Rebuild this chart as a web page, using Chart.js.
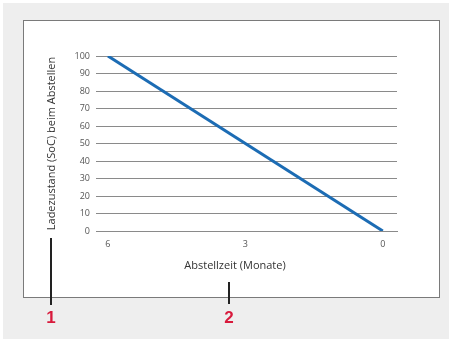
<!DOCTYPE html>
<html>
<head>
<meta charset="utf-8">
<script src="https://cdn.jsdelivr.net/npm/chart.js@4/dist/chart.umd.min.js"></script>
<style>
  body { margin: 0; background: #fff; }
  #wrap { position: relative; width: 452px; height: 342px; overflow: hidden; }
  #bg { position: absolute; left: 3px; top: 3px; width: 446px; height: 336px; background: #eeeeee; }
  #panel { position: absolute; left: 23px; top: 20px; width: 415px; height: 276px; background: #fff; border: 1px solid #7a7a7a; }
  #chart { position: absolute; left: 0; top: 0; }
  #xtitle { position: absolute; left: 135px; width: 200px; top: 257px; text-align: center; color: #333; font: 11px "Open Sans", sans-serif; }
  .lead { position: absolute; width: 2px; background: #222; }
  .num { position: absolute; color: #d81a3c; font: bold 17px "Liberation Sans", Arial, sans-serif; width: 20px; text-align: center; }
</style>
</head>
<body>
<div id="wrap">
  <div id="bg"></div>
  <div id="panel"></div>
  <canvas id="chart" width="452" height="342"></canvas>
  <div id="xtitle"></div>
  <div class="lead" style="left:50px; top:238px; height:67px;"></div>
  <div class="lead" style="left:228px; top:282px; height:22px;"></div>
  <div class="num" style="left:41px; top:308px;">1</div>
  <div class="num" style="left:219px; top:308px;">2</div>
</div>
<script>
const months = [6, 0];
const soc = [100, 0];
const xTickValues = [6, 3, 0];
const yTickValues = [0, 10, 20, 30, 40, 50, 60, 70, 80, 90, 100];
const xTitle = 'Abstellzeit (Monate)';
const yTitle = 'Ladezustand (SoC) beim Abstellen';

document.getElementById('xtitle').textContent = xTitle;

const ctx = document.getElementById('chart').getContext('2d');
const points = months.map((m, i) => ({ x: m, y: soc[i] }));

const chart = new Chart(ctx, {
  type: 'scatter',
  data: {
    datasets: [{
      data: points,
      showLine: true,
      borderColor: '#1c6cb4',
      borderWidth: 3,
      pointRadius: 0,
      fill: false
    }]
  },
  options: {
    responsive: false,
    animation: false,
    layout: { padding: { left: 40, top: 56, right: 55, bottom: 61 } },
    plugins: { legend: { display: false }, tooltip: { enabled: false } },
    scales: {
      x: {
        type: 'linear',
        reverse: true,
        min: -0.31,
        max: 6.26,
        afterBuildTicks: axis => { axis.ticks = xTickValues.map(v => ({ value: v })); },
        afterFit: axis => { axis.height = 50; },
        grid: { display: false, drawTicks: false },
        border: { display: true, color: '#8a8a8a', width: 1 },
        ticks: { padding: 8, color: '#555', font: { family: 'Open Sans', size: 9 } }
      },
      y: {
        min: 0,
        max: 100,
        afterBuildTicks: axis => { axis.ticks = yTickValues.map(v => ({ value: v })); },
        afterFit: axis => { axis.width = 56; },
        grid: { color: '#8a8a8a', drawTicks: false },
        border: { display: false },
        ticks: { padding: 6, color: '#555', font: { family: 'Open Sans', size: 9 } },
        title: { display: true, text: yTitle, color: '#333', padding: { top: 5, bottom: 0 }, font: { family: 'Open Sans', size: 11 } }
      }
    }
  }
});
</script>
</body>
</html>
